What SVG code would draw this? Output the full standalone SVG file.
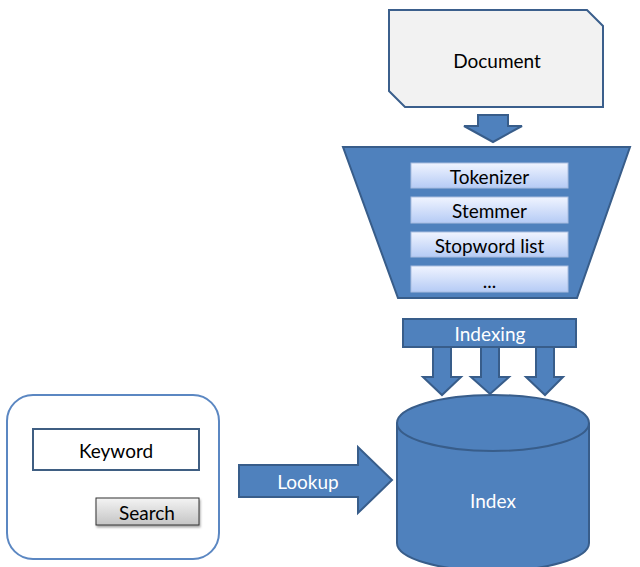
<svg xmlns="http://www.w3.org/2000/svg" width="640" height="567" viewBox="0 0 640 567">
<defs>
<linearGradient id="boxg" x1="0" y1="0" x2="0" y2="1">
<stop offset="0" stop-color="#f0f4ff"/>
<stop offset="1" stop-color="#b5cbf5"/>
</linearGradient>
<linearGradient id="btng" x1="0" y1="0" x2="0" y2="1">
<stop offset="0" stop-color="#f4f4f4"/>
<stop offset="1" stop-color="#c4c4c4"/>
</linearGradient>
<filter id="sh" x="-10%" y="-10%" width="130%" height="150%">
<feDropShadow dx="1" dy="2" stdDeviation="1.2" flood-color="#000" flood-opacity="0.35"/>
</filter>
</defs>
<style>
.blue{fill:#4f81bd;stroke:#385d8a;stroke-width:2}
.t{font-family:Lato,"Open Sans","Liberation Sans",sans-serif;font-size:19px;text-anchor:middle;dominant-baseline:central}
.w{fill:#ffffff}
.k{fill:#000000}
.step{fill:url(#boxg);stroke:#a9bde0;stroke-width:1}
</style>
<g id="document">
<polygon points="389,10 587,10 603,26 603,107 405,107 389,91" fill="#f2f2f2" stroke="#3b5f8c" stroke-width="2"/>
<text class="t k" x="497" y="60">Document</text>
</g>
<g id="connectors">
<polygon class="blue" points="478,115 508,115 508,126 522,126 493,142 464,126 478,126"/>
<g id="indexing-arrows">
<polygon class="blue" points="433,347 451,347 451,377 461,377 442,395 423,377 433,377"/>
<polygon class="blue" points="481,347 499,347 499,377 509,377 490,394 471,377 481,377"/>
<polygon class="blue" points="536,347 554,347 554,377 563,377 545,395 526,377 536,377"/>
</g>
</g>
<g id="pipeline">
<polygon class="blue" points="343,147 630,147 577,298 398,298"/>
<g id="tokenizer"><rect class="step" x="411" y="163" width="157" height="25"/><text class="t k" x="489.5" y="176">Tokenizer</text></g>
<g id="stemmer"><rect class="step" x="411" y="197" width="157" height="26"/><text class="t k" x="489.5" y="210">Stemmer</text></g>
<g id="stopword"><rect class="step" x="411" y="232" width="157" height="25"/><text class="t k" x="489.5" y="245">Stopword list</text></g>
<g id="more"><rect class="step" x="411" y="266" width="157" height="26"/><text class="t k" x="489.5" y="280">...</text></g>
</g>
<g id="indexing">
<rect class="blue" x="403" y="319" width="173" height="28"/>
<text class="t w" x="490" y="333">Indexing</text>
</g>
<g id="index">
<path class="blue" d="M397,423 L397,543 A96,28 0 0 0 589,543 L589,423"/>
<ellipse class="blue" cx="493" cy="423" rx="96" ry="28"/>
<text class="t w" x="493" y="500">Index</text>
</g>
<g id="search-panel">
<rect x="7" y="395" width="212" height="164" rx="26" ry="26" fill="#ffffff" stroke="#5b87c2" stroke-width="2"/>
<g id="keyword">
<rect x="33" y="429" width="166" height="41" fill="#ffffff" stroke="#3f5e82" stroke-width="2"/>
<text class="t k" x="116" y="450">Keyword</text>
</g>
<g id="search">
<rect x="96" y="498" width="103" height="27" fill="url(#btng)" stroke="#333333" stroke-width="1" filter="url(#sh)"/>
<text class="t k" x="147" y="512">Search</text>
</g>
</g>
<g id="lookup">
<polygon class="blue" points="239,465 358,465 358,447 392,480 358,513 358,497 239,497"/>
<text class="t w" x="308" y="481">Lookup</text>
</g>
</svg>
